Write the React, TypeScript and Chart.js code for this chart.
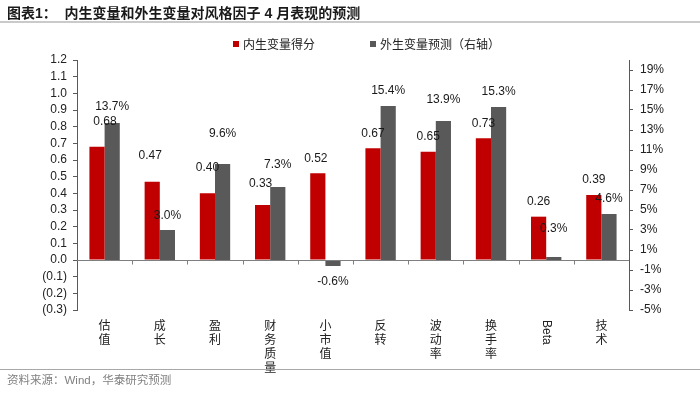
import React, { useEffect, useRef } from "react";
import { Chart, registerables } from "chart.js";

Chart.register(...registerables);

// ---- data ----
const categories = ["估值", "成长", "盈利", "财务质量", "小市值", "反转", "波动率", "换手率", "Beta", "技术"];
const endogenousScores = [0.68, 0.47, 0.4, 0.33, 0.52, 0.67, 0.65, 0.73, 0.26, 0.39];
const exogenousForecast = [13.7, 3.0, 9.6, 7.3, -0.6, 15.4, 13.9, 15.3, 0.3, 4.6];
const leftTicks = [-0.3, -0.2, -0.1, 0, 0.1, 0.2, 0.3, 0.4, 0.5, 0.6, 0.7, 0.8, 0.9, 1.0, 1.1, 1.2];
const rightTicks = [-5, -3, -1, 1, 3, 5, 7, 9, 11, 13, 15, 17, 19];
const seriesNames = ["内生变量得分", "外生变量预测（右轴）"];
const titleText = "图表1：  内生变量和外生变量对风格因子 4 月表现的预测";
const sourceText = "资料来源：Wind，华泰研究预测";

// label nudges (dx, dy) relative to default outside-end placement
const redLabelShift: number[][] = [[8, -10], [-2, -11], [0, -11], [-2, -6], [-2, 0], [0, 0], [0, 0], [0, 0], [0, 0], [0, 0]];
const grayLabelShift: number[][] = [[0, -1], [0, 1], [0, -15], [0, -7], [0, 0], [0, 0], [0, -6], [0, 0], [0, -13], [0, 0]];

const RED = "#C00000";
const GRAY = "#595959";
const LATIN = '"Liberation Sans", Arial, "Noto Sans CJK SC", sans-serif';
const CJK = '"Noto Sans CJK SC", "Liberation Sans", sans-serif';

const overlayPlugin = {
  id: "overlay",
  afterDatasetsDraw(chart: any) {
    const ctx = chart.ctx;
    const xs = chart.scales.x;
    const ys = chart.scales.y;
    const area = chart.chartArea;
    const zeroY = Math.round(ys.getPixelForValue(0)) + 0.5;
    ctx.save();
    ctx.strokeStyle = "#7f7f7f";
    ctx.lineWidth = 1;
    ctx.beginPath();
    ctx.moveTo(area.left, zeroY);
    ctx.lineTo(area.right, zeroY);
    for (let i = 1; i < categories.length; i++) {
      const bx = Math.round((xs.getPixelForValue(i - 1) + xs.getPixelForValue(i)) / 2) + 0.5;
      ctx.moveTo(bx, zeroY);
      ctx.lineTo(bx, zeroY + 4);
    }
    ctx.stroke();

    ctx.font = "12px " + LATIN;
    ctx.fillStyle = "#1a1a1a";
    ctx.textAlign = "center";
    ctx.textBaseline = "middle";
    chart.data.datasets.forEach((ds: any, di: number) => {
      const meta = chart.getDatasetMeta(di);
      meta.data.forEach((el: any, i: number) => {
        const v = ds.data[i];
        const shift = (di === 0 ? redLabelShift : grayLabelShift)[i];
        const text = di === 0 ? v.toFixed(2) : v.toFixed(1) + "%";
        const yy = v >= 0 ? el.y - 15 + shift[1] : el.y + 16 + shift[1];
        ctx.fillText(text, el.x + shift[0], yy);
      });
    });

    // rotated "Beta" category label
    const bi = categories.indexOf("Beta");
    if (bi >= 0) {
      ctx.save();
      ctx.translate(xs.getPixelForValue(bi), area.bottom + 10);
      ctx.rotate(Math.PI / 2);
      ctx.font = "12px " + LATIN;
      ctx.fillStyle = "#222";
      ctx.textAlign = "left";
      ctx.textBaseline = "middle";
      ctx.fillText("Beta", 0, 0);
      ctx.restore();
    }
    ctx.restore();
  },
};

export default function App() {
  const canvasRef = useRef<HTMLCanvasElement | null>(null);

  useEffect(() => {
    const canvas = canvasRef.current;
    if (!canvas) return;
    const chart = new Chart(canvas, {
      type: "bar",
      data: {
        labels: categories,
        datasets: [
          {
            label: seriesNames[0],
            data: endogenousScores,
            backgroundColor: RED,
            borderWidth: 0,
            yAxisID: "y",
            categoryPercentage: 0.55,
            barPercentage: 1,
          },
          {
            label: seriesNames[1],
            data: exogenousForecast,
            backgroundColor: GRAY,
            borderWidth: 0,
            yAxisID: "y1",
            categoryPercentage: 0.55,
            barPercentage: 1,
          },
        ],
      },
      options: {
        responsive: false,
        animation: false,
        devicePixelRatio: 1,
        layout: { padding: { top: 60, left: 0, right: 0, bottom: 0 } },
        plugins: { legend: { display: false }, tooltip: { enabled: false } },
        scales: {
          x: {
            type: "category",
            position: "bottom",
            grid: { display: false, drawTicks: false },
            border: { display: false },
            afterFit: (s: any) => {
              s.height = 83;
            },
            ticks: {
              autoSkip: false,
              maxRotation: 0,
              minRotation: 0,
              padding: 8,
              color: "#222",
              font: { family: CJK, size: 12, lineHeight: 14 / 12 },
              callback: (_v: any, idx: number) =>
                categories[idx] === "Beta" ? "" : Array.from(categories[idx]),
            },
          },
          y: {
            type: "linear",
            position: "left",
            min: -0.3,
            max: 1.2,
            afterFit: (s: any) => {
              s.width = 77;
            },
            afterBuildTicks: (s: any) => {
              s.ticks = leftTicks.map((v) => ({ value: v }));
            },
            grid: { drawOnChartArea: false, drawTicks: true, tickLength: 4, color: "#595959" },
            border: { display: true, color: "#595959", width: 1 },
            ticks: {
              autoSkip: false,
              padding: 6,
              color: "#222",
              font: { family: LATIN, size: 12 },
              callback: (v: any) => {
                const n = Number(v);
                return n < -1e-9 ? "(" + Math.abs(n).toFixed(1) + ")" : Math.abs(n).toFixed(1);
              },
            },
          },
          y1: {
            type: "linear",
            position: "right",
            min: -5,
            max: 20,
            afterFit: (s: any) => {
              s.width = 71;
            },
            afterBuildTicks: (s: any) => {
              s.ticks = rightTicks.map((v) => ({ value: v }));
            },
            grid: { drawOnChartArea: false, drawTicks: true, tickLength: 4, color: "#595959" },
            border: { display: true, color: "#595959", width: 1 },
            ticks: {
              autoSkip: false,
              padding: 7,
              color: "#222",
              font: { family: LATIN, size: 12 },
              callback: (v: any) => Number(v).toFixed(0) + "%",
            },
          },
        },
      },
      plugins: [overlayPlugin],
    } as any);
    return () => chart.destroy();
  }, []);

  return (
    <div
      style={{
        position: "fixed",
        left: 0,
        top: 0,
        width: 700,
        height: 393,
        background: "#fff",
        overflow: "hidden",
      }}
    >
      <canvas
        ref={canvasRef}
        width={700}
        height={393}
        style={{ position: "absolute", left: 0, top: 0, width: 700, height: 393 }}
      />
      <div
        style={{
          position: "absolute",
          left: 7,
          top: 4,
          fontFamily: '"Liberation Sans", "Noto Sans CJK SC", sans-serif',
          fontWeight: 700,
          fontSize: 14,
          lineHeight: "18px",
          color: "#1a1a1a",
          whiteSpace: "pre",
        }}
      >
        {titleText}
      </div>
      <div style={{ position: "absolute", left: 0, top: 21, width: 700, height: 2, background: "#cacaca" }} />
      <div
        style={{
          position: "absolute",
          left: 233,
          top: 36,
          display: "flex",
          alignItems: "center",
          fontFamily: CJK,
          fontSize: 12,
          lineHeight: "16px",
          color: "#222",
          whiteSpace: "pre",
        }}
      >
        <span style={{ display: "inline-block", width: 6, height: 6, background: RED, marginRight: 4 }} />
        <span>{seriesNames[0]}</span>
      </div>
      <div
        style={{
          position: "absolute",
          left: 370,
          top: 36,
          display: "flex",
          alignItems: "center",
          fontFamily: CJK,
          fontSize: 12,
          lineHeight: "16px",
          color: "#222",
          whiteSpace: "pre",
        }}
      >
        <span style={{ display: "inline-block", width: 6, height: 6, background: GRAY, marginRight: 4 }} />
        <span>{seriesNames[1]}</span>
      </div>
      <div style={{ position: "absolute", left: 0, top: 369, width: 700, height: 1, background: "#a8a8a8" }} />
      <div
        style={{
          position: "absolute",
          left: 7,
          top: 372,
          fontFamily: LATIN,
          fontSize: 11.5,
          lineHeight: "16px",
          color: "#808080",
          whiteSpace: "pre",
        }}
      >
        {sourceText}
      </div>
    </div>
  );
}
